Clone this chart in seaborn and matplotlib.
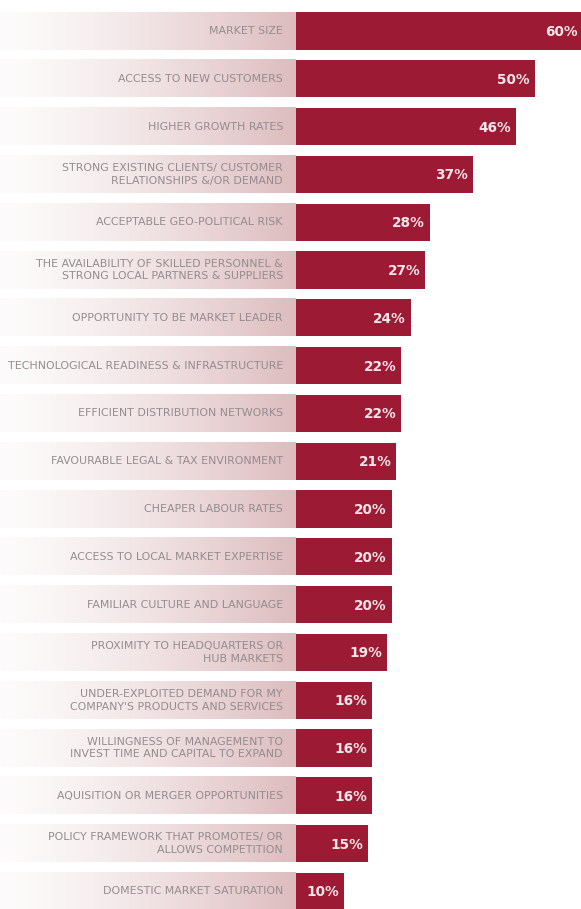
import numpy as np
import pandas as pd
import matplotlib
matplotlib.use("Agg")
import matplotlib.pyplot as plt
import seaborn as sns

factors = [
    "MARKET SIZE",
    "ACCESS TO NEW CUSTOMERS",
    "HIGHER GROWTH RATES",
    "STRONG EXISTING CLIENTS/ CUSTOMER\nRELATIONSHIPS &/OR DEMAND",
    "ACCEPTABLE GEO-POLITICAL RISK",
    "THE AVAILABILITY OF SKILLED PERSONNEL &\nSTRONG LOCAL PARTNERS & SUPPLIERS",
    "OPPORTUNITY TO BE MARKET LEADER",
    "TECHNOLOGICAL READINESS & INFRASTRUCTURE",
    "EFFICIENT DISTRIBUTION NETWORKS",
    "FAVOURABLE LEGAL & TAX ENVIRONMENT",
    "CHEAPER LABOUR RATES",
    "ACCESS TO LOCAL MARKET EXPERTISE",
    "FAMILIAR CULTURE AND LANGUAGE",
    "PROXIMITY TO HEADQUARTERS OR\nHUB MARKETS",
    "UNDER-EXPLOITED DEMAND FOR MY\nCOMPANY'S PRODUCTS AND SERVICES",
    "WILLINGNESS OF MANAGEMENT TO\nINVEST TIME AND CAPITAL TO EXPAND",
    "AQUISITION OR MERGER OPPORTUNITIES",
    "POLICY FRAMEWORK THAT PROMOTES/ OR\nALLOWS COMPETITION",
    "DOMESTIC MARKET SATURATION",
]
shares = [60, 50, 46, 37, 28, 27, 24, 22, 22, 21, 20, 20, 20, 19, 16, 16, 16, 15, 10]

df = pd.DataFrame({"factor": factors, "share": shares})

BAR = "#9c1a33"
W, H, DPI = 581, 909, 100
px_per_unit = 4.78          # pixels per percentage point
bar_origin_px = 296          # where bars start
row_px = 47.8
first_center_px = 31
bar_h = 0.78

fig = plt.figure(figsize=(W / DPI, H / DPI), dpi=DPI)
ax = fig.add_axes([0, 0, 1, 1])

x_left = -bar_origin_px / px_per_unit
x_right = (W - bar_origin_px) / px_per_unit
y_top = -first_center_px / row_px
y_bottom = y_top + H / row_px

# faded label bands to the left of each bar
n_grad = 256
t = np.linspace(0, 1, n_grad) ** 1.4
c0 = np.array([253, 251, 251]) / 255
c1 = np.array([221, 188, 190]) / 255
grad = (c0[None, :] * (1 - t[:, None]) + c1[None, :] * t[:, None])[None, :, :]
for i in range(len(df)):
    ax.imshow(grad, extent=[x_left, 0, i + bar_h / 2, i - bar_h / 2],
              aspect="auto", interpolation="bilinear", zorder=1)

sns.barplot(data=df, x="share", y="factor", orient="h", color=BAR,
            width=bar_h, saturation=1, ax=ax, zorder=2)

for i, (name, val) in enumerate(zip(df["factor"], df["share"])):
    ax.text(-13 / px_per_unit, i, name, ha="right", va="center",
            fontsize=7.9, color="#948c8d", linespacing=1.35,
            fontfamily="DejaVu Sans", zorder=3)
    ax.text(val - 5 / px_per_unit, i + 0.02, f"{val}%", ha="right", va="center",
            fontsize=9.8, fontweight="bold", color="#f6e6e9",
            fontfamily="DejaVu Sans", zorder=3)

ax.set_xlim(x_left, x_right)
ax.set_ylim(y_bottom, y_top)
ax.axis("off")
fig.savefig("out.png", dpi=DPI, facecolor="white")
